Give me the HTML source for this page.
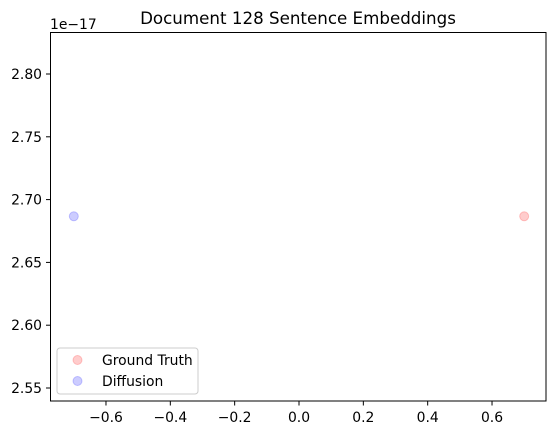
<!DOCTYPE html>
<html><head><meta charset="utf-8"><style>
body{margin:0;background:#fff;}
svg{display:block;font-family:"DejaVu Sans","Liberation Sans",sans-serif;}
</style></head><body>
<svg id="chart" width="556" height="435">
<text x="298" y="24" font-size="16.7" text-anchor="middle">Document 128 Sentence Embeddings</text>
<text x="50" y="29" font-size="13.9">1e−17</text>
<g id="ticks"></g>
<g id="points"></g>
<rect x="50.5" y="32.5" width="495.5" height="368.5" fill="none" stroke="#000" stroke-width="1"/>
<g>
<rect x="57" y="348" width="141" height="46" rx="3" fill="#fff" fill-opacity="0.8" stroke="#ccc"/>
<circle cx="77.5" cy="360" r="4.5" fill="#ff0000" fill-opacity="0.2" stroke="#ff0000" stroke-opacity="0.2"/>
<text x="102" y="365" font-size="13.9">Ground Truth</text>
<circle cx="77.5" cy="381" r="4.5" fill="#0000ff" fill-opacity="0.2" stroke="#0000ff" stroke-opacity="0.2"/>
<text x="102" y="386" font-size="13.9">Diffusion</text>
</g>
</svg>
<script>
const xTicks=[-0.6,-0.4,-0.2,0.0,0.2,0.4,0.6];
const xTickLabels=["−0.6","−0.4","−0.2","0.0","0.2","0.4","0.6"];
const yTicks=[2.55,2.60,2.65,2.70,2.75,2.80];
const yTickLabels=["2.55","2.60","2.65","2.70","2.75","2.80"];
const seriesNames=["Ground Truth","Diffusion"];
const seriesX=[[0.7],[-0.7]];
const seriesY=[[2.6867],[2.6867]];
const seriesColors=["#ff0000","#0000ff"];
const NS="http://www.w3.org/2000/svg";
function xs(v){return 299+v*321.7;}
function ys(v){return 388-(v-2.55)*1256;}
const tg=document.getElementById('ticks');
function mk(tag,attrs,parent){const e=document.createElementNS(NS,tag);for(const k in attrs)e.setAttribute(k,attrs[k]);parent.appendChild(e);return e;}
xTicks.forEach((t,i)=>{
 const x=xs(t);
 const l=mk('line',{x1:x,x2:x,y1:401,y2:405.5,stroke:'#000'},tg);
 
 
 const tx=mk('text',{x:x,y:422,'font-size':13.9,'text-anchor':'middle'},tg);
 tx.textContent=xTickLabels[i];
 
 
});
yTicks.forEach((t,i)=>{
 const y=ys(t);
 const l=mk('line',{x1:46,x2:50.5,y1:y,y2:y,stroke:'#000'},tg);
 
 
 const tx=mk('text',{x:42,y:y+5,'font-size':13.9,'text-anchor':'end'},tg);
 tx.textContent=yTickLabels[i];
 
 
});
const pg=document.getElementById('points');
seriesX.forEach((arr,s)=>{
 arr.forEach((v,i)=>{
  const c=mk('circle',{cx:xs(v),cy:ys(seriesY[s][i]),r:4.5,fill:seriesColors[s],'fill-opacity':0.2,stroke:seriesColors[s],'stroke-opacity':0.2},pg);
  
  
 });
});
</script>
</body></html>
